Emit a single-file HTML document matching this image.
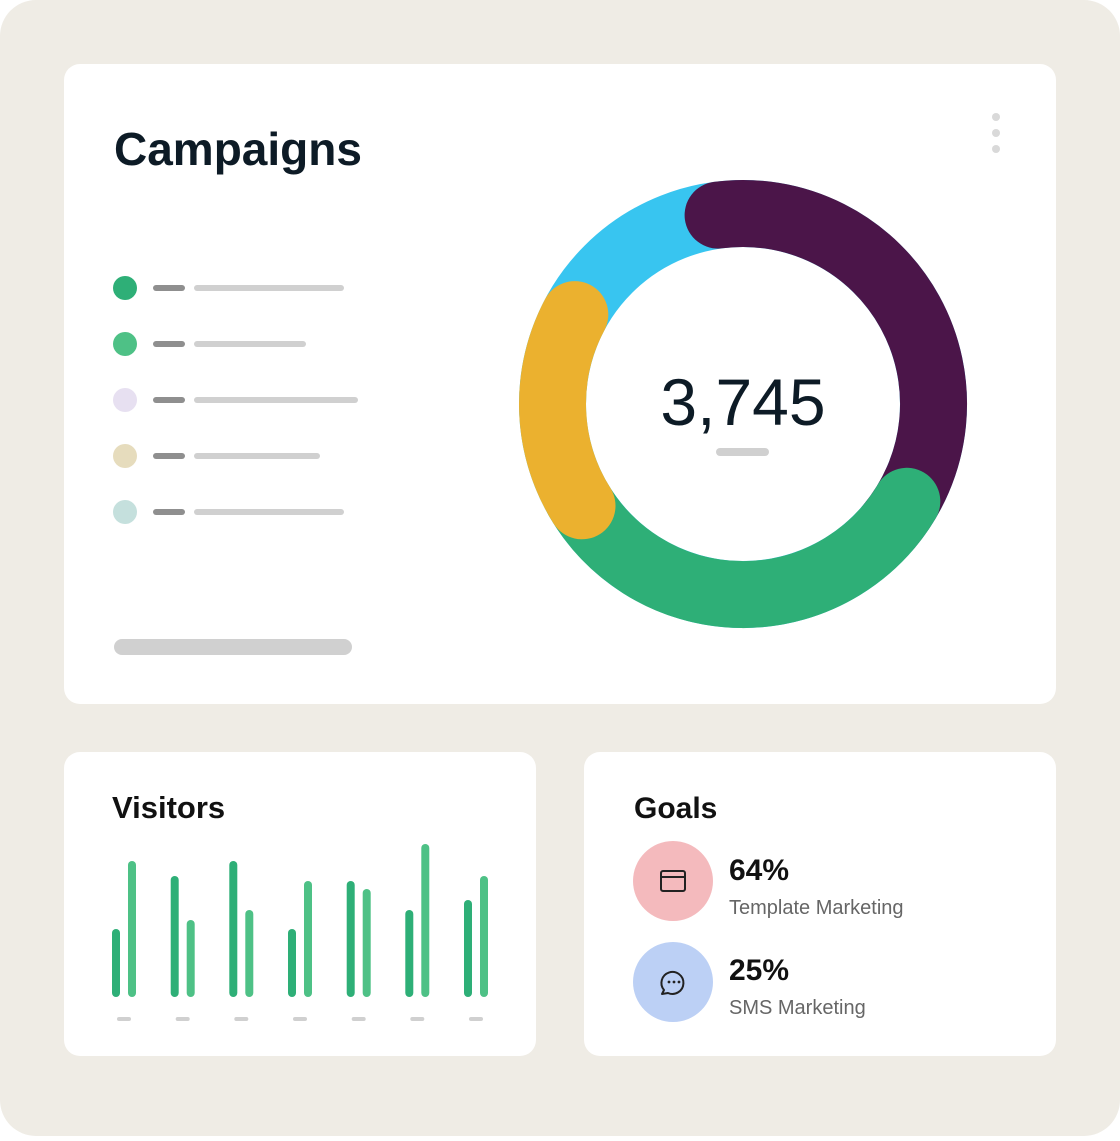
<!DOCTYPE html>
<html><head><meta charset="utf-8"><style>
body{margin:0;width:1120px;height:1136px;background:#fff;font-family:"Liberation Sans",sans-serif;}
</style></head><body>
<svg width="1120" height="1136" viewBox="0 0 1120 1136" xmlns="http://www.w3.org/2000/svg" font-family="Liberation Sans, sans-serif">
<rect x="0" y="0" width="1120" height="1136" rx="36" fill="#efece5"/>
<rect x="64" y="64" width="992" height="640" rx="16" fill="#fff"/>
<rect x="64" y="752" width="472" height="304" rx="16" fill="#fff"/>
<rect x="584" y="752" width="472" height="304" rx="16" fill="#fff"/>
<text x="114" y="165" font-size="46" font-weight="bold" fill="#0d1b26">Campaigns</text>
<circle cx="996" cy="117" r="4" fill="#d9d9d9"/><circle cx="996" cy="133" r="4" fill="#d9d9d9"/><circle cx="996" cy="149" r="4" fill="#d9d9d9"/>
<g stroke-linecap="round">
<circle cx="125" cy="288" r="12" fill="#2eaf77"/><line x1="156" y1="288" x2="182" y2="288" stroke="#8f8f8f" stroke-width="6"/><line x1="197" y1="288" x2="341" y2="288" stroke="#d0d0d0" stroke-width="6"/>
<circle cx="125" cy="344" r="12" fill="#4ec186"/><line x1="156" y1="344" x2="182" y2="344" stroke="#8f8f8f" stroke-width="6"/><line x1="197" y1="344" x2="303" y2="344" stroke="#d0d0d0" stroke-width="6"/>
<circle cx="125" cy="400" r="12" fill="#e7e0f1"/><line x1="156" y1="400" x2="182" y2="400" stroke="#8f8f8f" stroke-width="6"/><line x1="197" y1="400" x2="355" y2="400" stroke="#d0d0d0" stroke-width="6"/>
<circle cx="125" cy="456" r="12" fill="#e6dcbd"/><line x1="156" y1="456" x2="182" y2="456" stroke="#8f8f8f" stroke-width="6"/><line x1="197" y1="456" x2="317" y2="456" stroke="#d0d0d0" stroke-width="6"/>
<circle cx="125" cy="512" r="12" fill="#c5e0dd"/><line x1="156" y1="512" x2="182" y2="512" stroke="#8f8f8f" stroke-width="6"/><line x1="197" y1="512" x2="341" y2="512" stroke="#d0d0d0" stroke-width="6"/>
<line x1="122" y1="647" x2="344" y2="647" stroke="#d0d0d0" stroke-width="16"/>
</g>
<!-- donut -->
<g fill="none" stroke-width="67">
<circle cx="743" cy="404" r="190.5" stroke="#38c5f0"/>
<path d="M718.1,215.1 A190.5,190.5 0 0 1 888.9,526.5" stroke="#4b1549" stroke-linecap="round"/>
<path d="M906.8,501.3 A190.5,190.5 0 0 1 578.0,499.3" stroke="#2eaf77" stroke-linecap="round"/>
<path d="M582.0,505.8 A190.5,190.5 0 0 1 574.8,314.6" stroke="#ebb12f" stroke-linecap="round"/>
</g>
<circle cx="743" cy="404" r="156" fill="#fff"/>
<text x="743" y="425" font-size="66" text-anchor="middle" fill="#0d1b26">3,745</text>
<line x1="720" y1="452" x2="765" y2="452" stroke="#d0d0d0" stroke-width="8" stroke-linecap="round"/>
<text x="112" y="818" font-size="31" font-weight="bold" fill="#111">Visitors</text>
<g stroke-width="8" stroke-linecap="round">
<line x1="116" y1="933" x2="116" y2="993" stroke="#2eaf77"/><line x1="132" y1="865" x2="132" y2="993" stroke="#4ec186"/>
<line x1="174.7" y1="880" x2="174.7" y2="993" stroke="#2eaf77"/><line x1="190.7" y1="924" x2="190.7" y2="993" stroke="#4ec186"/>
<line x1="233.3" y1="865" x2="233.3" y2="993" stroke="#2eaf77"/><line x1="249.3" y1="914" x2="249.3" y2="993" stroke="#4ec186"/>
<line x1="292" y1="933" x2="292" y2="993" stroke="#2eaf77"/><line x1="308" y1="885" x2="308" y2="993" stroke="#4ec186"/>
<line x1="350.7" y1="885" x2="350.7" y2="993" stroke="#2eaf77"/><line x1="366.7" y1="893" x2="366.7" y2="993" stroke="#4ec186"/>
<line x1="409.3" y1="914" x2="409.3" y2="993" stroke="#2eaf77"/><line x1="425.3" y1="848" x2="425.3" y2="993" stroke="#4ec186"/>
<line x1="468" y1="904" x2="468" y2="993" stroke="#2eaf77"/><line x1="484" y1="880" x2="484" y2="993" stroke="#4ec186"/>
</g>
<g stroke="#d0d0d0" stroke-width="4" stroke-linecap="round">
<line x1="119" y1="1019" x2="129" y2="1019"/><line x1="177.7" y1="1019" x2="187.7" y2="1019"/><line x1="236.3" y1="1019" x2="246.3" y2="1019"/><line x1="295" y1="1019" x2="305" y2="1019"/><line x1="353.7" y1="1019" x2="363.7" y2="1019"/><line x1="412.3" y1="1019" x2="422.3" y2="1019"/><line x1="471" y1="1019" x2="481" y2="1019"/>
</g>
<text x="634" y="818" font-size="30" font-weight="bold" fill="#111">Goals</text>
<circle cx="673" cy="881" r="40" fill="#f4babd"/>
<rect x="661" y="871" width="24" height="20" rx="2" fill="none" stroke="#222" stroke-width="2"/>
<line x1="661" y1="877" x2="685" y2="877" stroke="#222" stroke-width="2"/>
<circle cx="673" cy="982" r="40" fill="#bcd0f5"/>
<path d="M664,990 A11,11 0 1 1 668,993 L662,994 Z" fill="none" stroke="#222" stroke-width="2" stroke-linejoin="round"/>
<circle cx="669" cy="982" r="1.4" fill="#222"/><circle cx="674" cy="982" r="1.4" fill="#222"/><circle cx="679" cy="982" r="1.4" fill="#222"/>
<text x="729" y="880" font-size="30" font-weight="bold" fill="#111">64%</text>
<text x="729" y="914" font-size="20" fill="#666">Template Marketing</text>
<text x="729" y="980" font-size="30" font-weight="bold" fill="#111">25%</text>
<text x="729" y="1014" font-size="20" fill="#666">SMS Marketing</text>
</svg>
</body></html>
